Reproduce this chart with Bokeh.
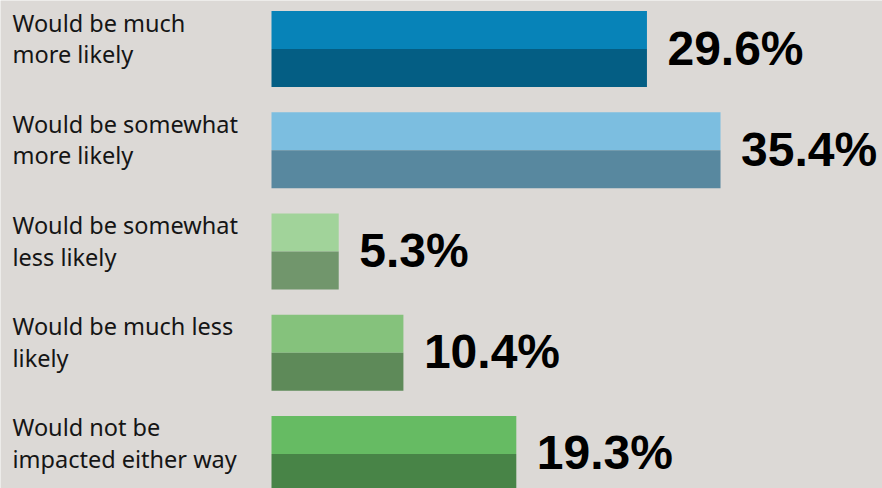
from bokeh.plotting import figure
from bokeh.models import Range1d, ColumnDataSource
from bokeh.core.properties import value
from bokeh.embed import file_html
from bokeh.resources import INLINE

# ---- data ----
categories = [
    "Would be much\nmore likely",
    "Would be somewhat\nmore likely",
    "Would be somewhat\nless likely",
    "Would be much less\nlikely",
    "Would not be\nimpacted either way",
]
values = [29.6, 35.4, 5.3, 10.4, 19.3]
value_labels = ["29.6%", "35.4%", "5.3%", "10.4%", "19.3%"]

top_colors = ["#0783b8", "#7cbee0", "#a1d39a", "#85c27c", "#66bb63"]
bottom_colors = ["#045e84", "#58889f", "#71966c", "#5e8a59", "#488447"]
BG = "#dcd9d6"

# ---- geometry (pixel-fitted ranges) ----
px_per_unit = 12.684
x0_px = 271.0
row_px = 101.2
c0_px = 48.6
W, H = 882, 488
bar_h = 76.0 / row_px

idx = list(range(len(categories)))
line1 = [c.split("\n")[0] for c in categories]
line2 = [c.split("\n")[1] if "\n" in c else "" for c in categories]

src = ColumnDataSource(dict(
    y=idx,
    y_top=[i - bar_h / 4 for i in idx],
    y_bot=[i + bar_h / 4 for i in idx],
    v=values,
    vl=value_labels,
    l1=line1,
    l2=line2,
    ctop=top_colors,
    cbot=bottom_colors,
    zero=[0] * len(idx),
))

p = figure(
    width=W, height=H,
    x_range=Range1d(-x0_px / px_per_unit, (W - x0_px) / px_per_unit),
    y_range=Range1d((H - c0_px) / row_px, -c0_px / row_px),
    output_backend="svg", toolbar_location=None,
    x_axis_location=None, y_axis_location=None,
    min_border=0,
)
p.background_fill_color = BG
p.border_fill_color = BG
p.outline_line_color = None
p.xgrid.visible = False
p.ygrid.visible = False

p.hbar(y="y_top", left="zero", right="v", height=bar_h / 2, fill_color="ctop", line_color=None, source=src)
p.hbar(y="y_bot", left="zero", right="v", height=bar_h / 2, fill_color="cbot", line_color=None, source=src)

# value labels
p.text(x="v", y="y", text="vl", x_offset=20.5, y_offset=-1,
       text_font=value("Liberation Sans"), text_font_style="bold",
       text_font_size="48px", text_color="#000000",
       text_baseline="alphabetic", text_align="left", source=src)

# category labels (two lines)
lx = -(x0_px - 12) / px_per_unit
src.data["lx"] = [lx] * len(idx)
p.text(x="lx", y="y", text="l1", y_offset=-26.5,
       text_font=value("Noto Sans"), text_font_size="23.5px", text_color="#151515",
       text_baseline="alphabetic", text_align="left", source=src)
p.text(x="lx", y="y", text="l2", y_offset=5,
       text_font=value("Noto Sans"), text_font_size="23.5px", text_color="#151515",
       text_baseline="alphabetic", text_align="left", source=src)

open("out.html", "w").write(file_html(p, INLINE))
